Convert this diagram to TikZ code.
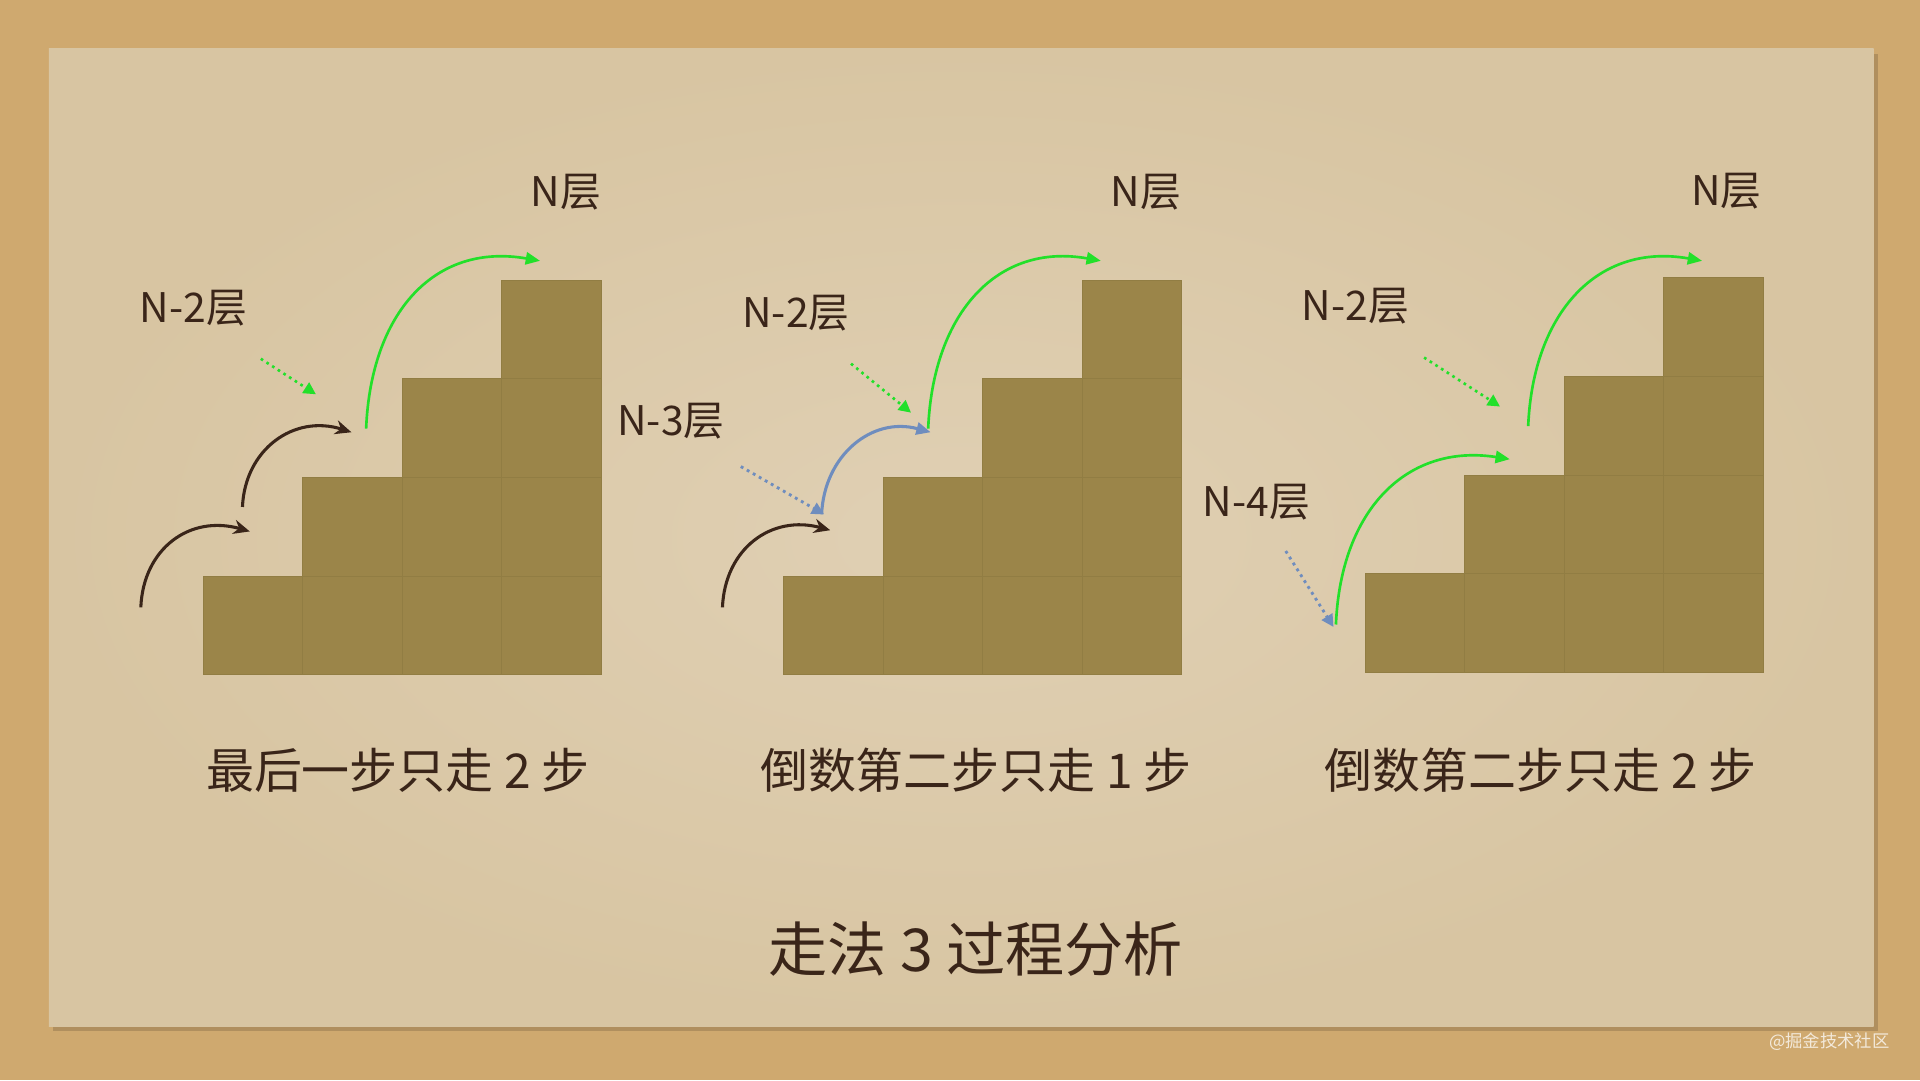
\documentclass[tikz,border=0pt]{standalone}
\usepackage{fontspec}
\setmainfont{Noto Sans CJK SC}
\usetikzlibrary{arrows.meta}
\definecolor{sand}{HTML}{CFA96F}
\definecolor{paperin}{HTML}{E0D0B4}
\definecolor{paperout}{HTML}{D8C5A2}
\definecolor{stair}{HTML}{9B8549}
\definecolor{stairline}{HTML}{917D43}
\definecolor{ink}{HTML}{3A2519}
\definecolor{grn}{HTML}{22E02A}
\definecolor{blu}{HTML}{6F8DBE}
\newcommand\drawstairs[2]{%
  \foreach \c in {0,...,3}{%
    \foreach \r in {0,...,\c}{%
      \filldraw[stair cell] ({#1+\c*81.2},{#2-\r*80.6}) rectangle +(81.2,-80.6);
    }%
  }%
}
\begin{document}
\begin{tikzpicture}[x=0.6pt,y=-0.6pt,
  stair cell/.style={fill=stair,draw=stairline,line width=0.35pt},
  lvl/.style={text=ink,font=\fontsize{20}{22}\selectfont,inner sep=0pt},
  captxt/.style={text=ink,font=\fontsize{23.5}{26}\selectfont,inner sep=0pt},
  ttl/.style={text=ink,font=\fontsize{29}{32}\selectfont,inner sep=0pt},
  darkarr/.style={draw=ink,line width=1.5pt,-{Stealth[length=8pt,width=7pt]}},
  grnarr/.style={draw=grn,line width=1.3pt,-{Triangle[length=7pt,width=6pt]}},
  bluarr/.style={draw=blu,line width=1.5pt,-{Triangle[length=7pt,width=6pt]}},
  grndot/.style={draw=grn,line width=1.3pt,dotted,-{Triangle[length=6pt,width=6pt]}},
  bludot/.style={draw=blu,line width=1.4pt,dotted,-{Triangle[length=6pt,width=6pt]}}]
\useasboundingbox (0,0) rectangle (1568,882);
% background
\fill[sand] (0,0) rectangle (1568,882);
\fill[black,opacity=0.15] (43,44) rectangle (1534,842);
\shade[inner color=paperin,outer color=paperout] (40,40) rectangle (1530,838);
% stairs
\drawstairs{166}{551}
\drawstairs{640}{551}
\drawstairs{1115}{549}
% ---------- panel 1
\node[lvl] (p1n) at (462,157) {N层};
\node[lvl] (p1n2) at (158,252) {N-2层};
\coordinate (p1d1s) at (213,293); \coordinate (p1d1e) at (258,322);
\draw[grndot] (p1d1s) -- (p1d1e);
\coordinate (p1a1s) at (115,496); \coordinate (p1a1e) at (204,434);
\draw[darkarr] (p1a1s) .. controls (117,448) and (155,420) .. (p1a1e);
\coordinate (p1a2s) at (198,414); \coordinate (p1a2e) at (287,353);
\draw[darkarr] (p1a2s) .. controls (200,367) and (240,338) .. (p1a2e);
\coordinate (p1g1s) at (299,350); \coordinate (p1g1e) at (441,213);
\draw[grnarr] (p1g1s) .. controls (303,255) and (355,198) .. (p1g1e);
\node[captxt] (p1cap) at (325,629) {最后一步只走 2 步};
% ---------- panel 2
\node[lvl] (p2n) at (936,157) {N层};
\node[lvl] (p2n2) at (650,256) {N-2层};
\node[lvl] (p2n3) at (548,344) {N-3层};
\coordinate (p2d1s) at (695,297); \coordinate (p2d1e) at (744,337);
\draw[grndot] (p2d1s) -- (p2d1e);
\coordinate (p2d2s) at (605,381); \coordinate (p2d2e) at (673,420);
\draw[bludot] (p2d2s) -- (p2d2e);
\coordinate (p2a1s) at (590,496); \coordinate (p2a1e) at (678,433);
\draw[darkarr] (p2a1s) .. controls (592,448) and (630,420) .. (p2a1e);
\coordinate (p2b1s) at (671,420); \coordinate (p2b1e) at (760,353);
\draw[bluarr] (p2b1s) .. controls (673,372) and (712,340) .. (p2b1e);
\coordinate (p2g1s) at (758,350); \coordinate (p2g1e) at (899,213);
\draw[grnarr] (p2g1s) .. controls (762,255) and (815,198) .. (p2g1e);
\node[captxt] (p2cap) at (797,629) {倒数第二步只走 1 步};
% ---------- panel 3
\node[lvl] (p3n) at (1410,156) {N层};
\node[lvl] (p3n2) at (1107,250) {N-2层};
\node[lvl] (p3n4) at (1026,410) {N-4层};
\coordinate (p3d1s) at (1163,292); \coordinate (p3d1e) at (1225,332);
\draw[grndot] (p3d1s) -- (p3d1e);
\coordinate (p3d2s) at (1050,450); \coordinate (p3d2e) at (1089,512);
\draw[bludot] (p3d2s) -- (p3d2e);
\coordinate (p3g1s) at (1248,348); \coordinate (p3g1e) at (1390,213);
\draw[grnarr] (p3g1s) .. controls (1252,255) and (1305,198) .. (p3g1e);
\coordinate (p3g2s) at (1091,510); \coordinate (p3g2e) at (1233,375);
\draw[grnarr] (p3g2s) .. controls (1095,415) and (1150,362) .. (p3g2e);
\node[captxt] (p3cap) at (1258,629) {倒数第二步只走 2 步};
% ---------- title and mark
\node[ttl] (title) at (797,775) {走法 3 过程分析};
\node[text=white,opacity=0.75,font=\fontsize{8.5}{10}\selectfont,inner sep=0pt] (mark) at (1494,851) {@掘金技术社区};
\end{tikzpicture}
\end{document}
